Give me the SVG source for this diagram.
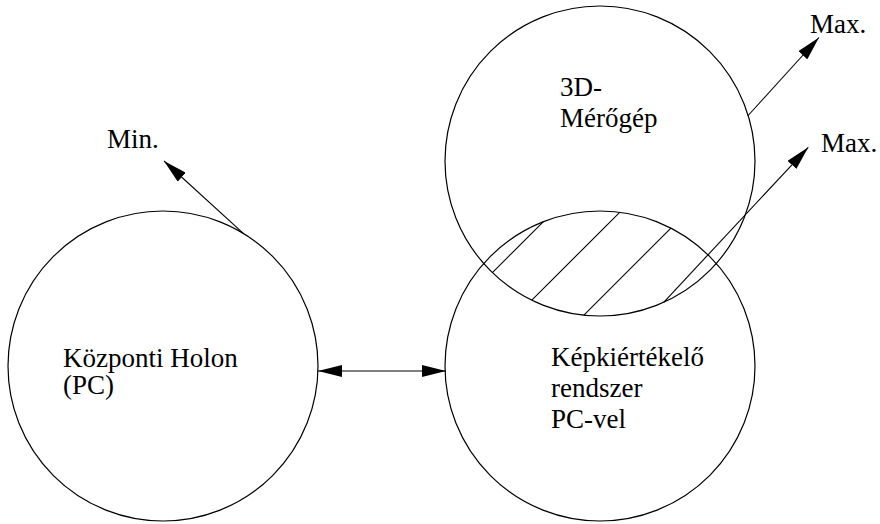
<svg xmlns="http://www.w3.org/2000/svg" width="880" height="524" viewBox="0 0 880 524">
<style>
.node{fill:none;stroke:#000;stroke-width:1.2}
.ln{stroke:#000;stroke-width:1.1;fill:none}
</style>
<defs>
<marker id="ah" viewBox="0 0 24 12" refX="24" refY="6" markerWidth="24" markerHeight="12" markerUnits="userSpaceOnUse" orient="auto-start-reverse">
<path d="M0,0 L24,6 L0,12 Z" fill="#000"/>
</marker>
</defs>
<rect width="880" height="524" fill="#fff"/>
<g id="kozponti">
<circle class="node" cx="163" cy="366" r="155"/>
<text x="63" y="367" font-family="Liberation Serif" font-size="27">Központi Holon</text>
<text x="63" y="394" font-family="Liberation Serif" font-size="27">(PC)</text>
</g>
<g id="kepkiertekelo">
<circle class="node" cx="600" cy="366" r="155"/>
<text x="551" y="366" font-family="Liberation Serif" font-size="27">Képkiértékelő</text>
<text x="551" y="397" font-family="Liberation Serif" font-size="27">rendszer</text>
<text x="551" y="428" font-family="Liberation Serif" font-size="27">PC-vel</text>
</g>
<g id="merogep">
<circle class="node" cx="600" cy="161" r="155"/>
<text x="560" y="96" font-family="Liberation Serif" font-size="27">3D-</text>
<text x="560" y="127" font-family="Liberation Serif" font-size="27">Mérőgép</text>
</g>
<g id="hatch">
<line class="ln" x1="492.4" y1="272.6" x2="543.2" y2="221.8"/>
<line class="ln" x1="531.8" y1="300.2" x2="619.7" y2="212.3"/>
<line class="ln" x1="583.9" y1="315.1" x2="670.9" y2="228.1"/>
</g>
<g id="connectors">
<line class="ln" x1="318" y1="371" x2="446" y2="371" marker-start="url(#ah)" marker-end="url(#ah)"/>
<line class="ln" x1="243.3" y1="233.3" x2="164" y2="161" marker-end="url(#ah)"/>
<line class="ln" x1="747.7" y1="116" x2="819" y2="37.5" marker-end="url(#ah)"/>
<line class="ln" x1="663.7" y1="302.3" x2="808.3" y2="147.3" marker-end="url(#ah)"/>
</g>
<g id="labels">
<text x="107" y="148" font-family="Liberation Serif" font-size="27">Min.</text>
<text x="810" y="33" font-family="Liberation Serif" font-size="27">Max.</text>
<text x="821" y="152" font-family="Liberation Serif" font-size="27">Max.</text>
</g>
</svg>
